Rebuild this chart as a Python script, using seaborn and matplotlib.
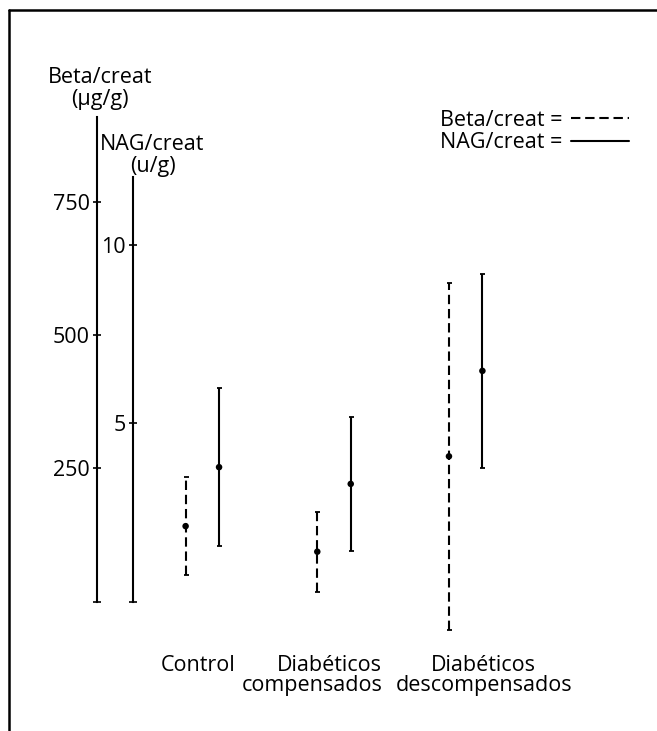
import numpy as np
import pandas as pd
import matplotlib
matplotlib.use("Agg")
import matplotlib.pyplot as plt
import seaborn as sns
from matplotlib.lines import Line2D

# ---------------- data ----------------
groups = ["Control", "Diabéticos\ncompensados", "Diabéticos\ndescompensados"]
beta_mean = [141.5, 93.6, 272.5]      # Beta/creat (µg/g)
beta_sd = [92.5, 75.0, 325.5]
nag_mean = [3.77, 3.30, 6.47]         # NAG/creat (u/g)
nag_sd = [2.21, 1.87, 2.72]
beta_ticks = [0, 250, 500, 750]
beta_ticklabels = ["", "250", "500", "750"]
nag_ticks = [0, 5, 10]
nag_ticklabels = ["", "5", "10"]
beta_axis_max = 909
nag_axis_max = 11.9

# ---------------- style ----------------
sns.set_style("white")
plt.rcParams["font.family"] = ["Open Sans", "DejaVu Sans"]
plt.rcParams["text.color"] = "black"
plt.rcParams["axes.labelcolor"] = "black"
plt.rcParams["ytick.color"] = "black"
plt.rcParams["ytick.labelcolor"] = "black"
FS = 15.5
LW = 1.5
DASH = (0, (4.5, 2.3))

W, H = 657, 731
fig = plt.figure(figsize=(W / 100, H / 100), dpi=100)
ax_left, ax_right, ax_top, ax_bot = 97, 657, 10, 640
ax = fig.add_axes([ax_left / W, 1 - ax_bot / H, (ax_right - ax_left) / W, (ax_bot - ax_top) / H])
ax.patch.set_alpha(0)
ax2 = ax.twinx()

ax.set_xlim(-0.80, 3.453)
ax.set_ylim(-72.0, 1109.5)
ax2.set_ylim(-1.077, 16.59)

idx = np.arange(len(groups))
off = 0.127
df = pd.DataFrame({
    "group": groups,
    "x_beta": idx - off,
    "x_nag": idx + off,
    "beta_mean": beta_mean,
    "beta_sd": beta_sd,
    "nag_mean": nag_mean,
    "nag_sd": nag_sd,
})

# Beta/creat: dashed error bars on the left axis
eb = ax.errorbar(df["x_beta"], df["beta_mean"], yerr=df["beta_sd"], fmt="none",
                 ecolor="black", elinewidth=LW, capsize=1.8, capthick=1.3)
eb[2][0].set_linestyle(DASH)
sns.scatterplot(data=df, x="x_beta", y="beta_mean", ax=ax, color="black", s=22,
                edgecolor="none", legend=False, zorder=5)

# NAG/creat: solid error bars on the second axis
ax2.errorbar(df["x_nag"], df["nag_mean"], yerr=df["nag_sd"], fmt="none",
             ecolor="black", elinewidth=LW, capsize=1.8, capthick=1.3)
sns.scatterplot(data=df, x="x_nag", y="nag_mean", ax=ax2, color="black", s=22,
                edgecolor="none", legend=False, zorder=5)

# ---------------- axes styling ----------------
for a in (ax, ax2):
    for s in ("top", "right", "bottom"):
        a.spines[s].set_visible(False)
    a.spines["left"].set_visible(True)
    a.spines["left"].set_color("black")
    a.spines["left"].set_linewidth(LW)
    a.set_xticks([])
    a.set_xlabel("")
    a.set_ylabel("")
    a.grid(False)

ax.spines["left"].set_bounds(0, beta_axis_max)
ax2.spines["left"].set_bounds(0, nag_axis_max)
ax2.spines["left"].set_position(("axes", 36 / 560))
ax2.yaxis.set_ticks_position("left")
ax2.yaxis.set_label_position("left")

ax.set_yticks(beta_ticks, beta_ticklabels)
ax2.set_yticks(nag_ticks, nag_ticklabels)
for a in (ax, ax2):
    a.tick_params(axis="y", which="both", direction="inout", length=6, width=1.2,
                  pad=2, labelsize=FS, colors="black", left=True, right=False,
                  labelleft=True, labelright=False)

# axis titles
ax.annotate("Beta/creat\n(µg/g)", xy=(0, beta_axis_max),
            xycoords=("axes fraction", "data"), xytext=(2, 5),
            textcoords="offset points", ha="center", va="bottom",
            fontsize=FS, linespacing=1.05, color="black")
ax2.annotate("NAG/creat\n(u/g)", xy=(36 / 560, nag_axis_max),
             xycoords=("axes fraction", "data"), xytext=(14, 0),
             textcoords="offset points", ha="center", va="bottom",
             fontsize=FS, linespacing=1.05, color="black")

# category labels
label_dx = [-3, -16, 13]
label_align = ["center", "right", "center"]
for i, g in enumerate(groups):
    ax.annotate(g, xy=(idx[i], 0), xycoords=("data", "axes fraction"),
                xytext=(label_dx[i], -11), textcoords="offset points",
                ha="center", va="top", multialignment=label_align[i],
                fontsize=FS, linespacing=0.95, color="black")

# legend with the line sample after the text
handles = [Line2D([], [], color="black", lw=LW, linestyle=DASH),
           Line2D([], [], color="black", lw=LW)]
leg = ax.legend(handles, ["Beta/creat =", "NAG/creat ="], markerfirst=False,
                frameon=False, loc="upper left",
                bbox_to_anchor=(440 / W, 1 - 110 / H),
                bbox_transform=fig.transFigure, borderaxespad=0, borderpad=0,
                handlelength=2.7, handletextpad=0.4, labelspacing=0.05,
                fontsize=FS)
for t in leg.get_texts():
    t.set_color("black")

# outer frame (top and left edges)
fig.add_artist(Line2D([9 / W, 9 / W], [0, 1 - 10 / H], transform=fig.transFigure,
                      color="black", lw=1.8))
fig.add_artist(Line2D([9 / W, 1], [1 - 10 / H, 1 - 10 / H], transform=fig.transFigure,
                      color="black", lw=1.8))

fig.savefig("out.png", dpi=100)
